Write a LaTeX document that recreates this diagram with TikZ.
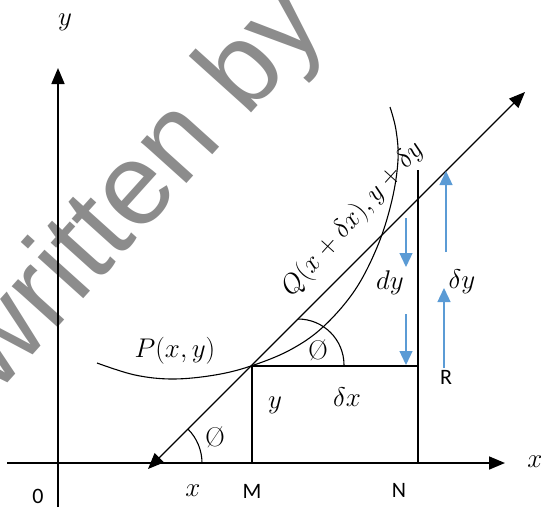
\RequirePackage{fix-cm}
\documentclass[tikz,border=0pt]{standalone}
\usepackage{fontspec}
\newfontfamily\calib{Carlito}
\newfontfamily\wmfont{Liberation Sans}
\usetikzlibrary{arrows.meta}
\definecolor{arrowblue}{HTML}{5B9BD5}
\definecolor{wmgray}{HTML}{8C8C8C}
\begin{document}
\begin{tikzpicture}[x=1pt,y=-1pt,
  thin line/.style={line width=1.1pt, black},
  axisline/.style={line width=1.7pt, -{Triangle[length=16pt,width=13pt]}},
  tangentline/.style={line width=1.1pt, {Triangle[length=16pt,width=13pt]}-{Triangle[length=16pt,width=13pt]}},
  barrow/.style={arrowblue, line width=1.3pt, -{Triangle[length=14pt,width=13pt]}},
  mlab/.style={font=\fontsize{27}{30}\selectfont, inner sep=0pt},
  slab/.style={font=\calib\fontsize{22}{26}\selectfont, inner sep=0pt},
]
\useasboundingbox (0,0) rectangle (541,507);
% watermark
\begin{scope}
\clip (0,0) rectangle (541,507);
\node[anchor=base west, rotate=48, text=wmgray, font=\wmfont\fontsize{116}{116}\selectfont, inner sep=0pt] (wm) at (-4,396) {written by};
\end{scope}
% coordinates
\coordinate (yb) at (58,507);
\coordinate (yt) at (58,68);
\coordinate (xl) at (7,463);
\coordinate (xr) at (505,463);
\coordinate (tl) at (148,469);
\coordinate (tr) at (525,92);
\coordinate (P) at (252,366);
\coordinate (M) at (252,463);
\coordinate (Rt) at (418,366);
\coordinate (Ntop) at (418,170);
\coordinate (N) at (418,463);
% axes
\draw[axisline] (yb) -- (yt);
\draw[axisline] (xl) -- (xr);
% tangent
\draw[tangentline] (tr) -- (tl);
% rectangle lines
\draw[thin line] (P) -- (M);
\draw[thin line] (P) -- (Rt);
\draw[thin line] (Ntop) -- (N);
% curve
\draw[thin line] plot[smooth, tension=0.6] coordinates {(97,363) (135,375) (173,379) (215,375) (251,366) (290,350) (323,327) (355,290) (378,245) (392,200) (398,160) (396,130) (390,107)};
% angle arcs
\draw[thin line] (202,463) arc[start angle=0, end angle=-45, radius=48];
\draw[thin line] (298,319) arc[start angle=-90, end angle=0, radius=46];
% blue arrows
\coordinate (d1a) at (406,218); \coordinate (d1b) at (406,267);
\coordinate (d2a) at (406,314); \coordinate (d2b) at (406,365);
\coordinate (u1a) at (446,252); \coordinate (u1b) at (446,171);
\coordinate (u2a) at (444,368); \coordinate (u2b) at (444,288);
\draw[barrow] (d1a) -- (d1b);
\draw[barrow] (d2a) -- (d2b);
\draw[barrow] (u1a) -- (u1b);
\draw[barrow] (u2a) -- (u2b);
% labels
\node[mlab] (ylab) at (65,22) {$y$};
\node[mlab] (xlab) at (535,462) {$x$};
\node[slab] (zero) at (38,496) {0};
\node[mlab] (xpos) at (193,491) {$x$};
\node[slab] (Mlab) at (252,491) {M};
\node[slab] (Nlab) at (399,490) {N};
\node[slab] (Rlab) at (446,377) {R};
\node[mlab] (Plab) at (175,351) {$P(x,y)$};
\node[mlab] (yin) at (275,405) {$y$};
\node[mlab] (dxlab) at (347,397) {$\delta x$};
\node[mlab] (dylab) at (390,283) {$dy$};
\node[mlab] (deltay) at (462,282) {$\delta y$};
\node[mlab] (phi1) at (215,437) {Ø};
\node[mlab] (phi2) at (318,350) {Ø};
\node[mlab, rotate=48] (Qlab) at (353,219) {$Q(x+\delta x),y+\delta y$};
\end{tikzpicture}
\end{document}
